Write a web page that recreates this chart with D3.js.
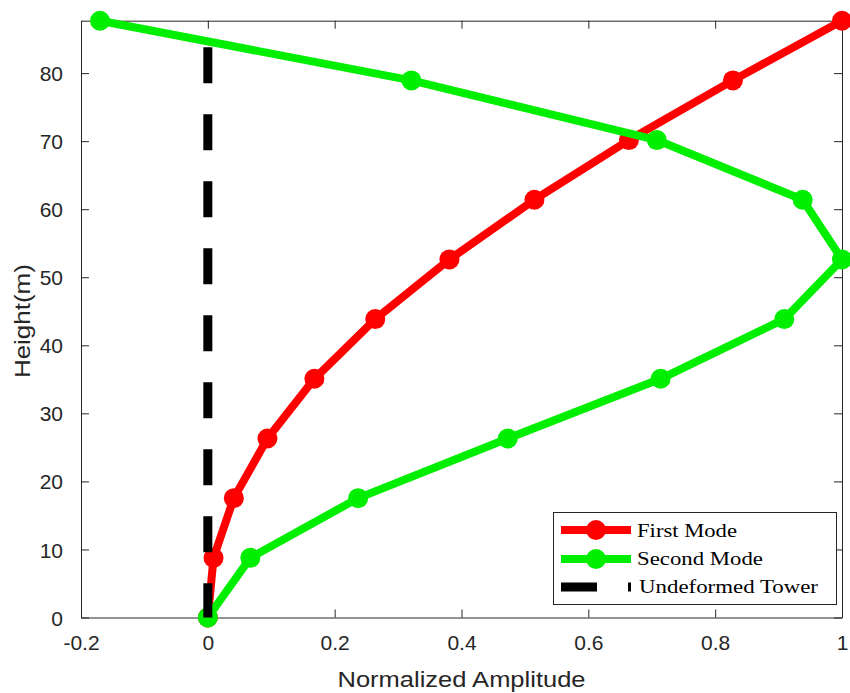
<!DOCTYPE html>
<html>
<head>
<meta charset="utf-8">
<script src="https://cdn.jsdelivr.net/npm/d3@7"></script>
<style>
  html, body { margin: 0; padding: 0; background: #fff; }
  svg { display: block; }
</style>
</head>
<body>
<script>
// Tower heights (m) at each measured station
const heights = [0, 8.77, 17.54, 26.31, 35.08, 43.85, 52.62, 61.39, 70.16, 78.93, 87.7];
// Normalized mode shape amplitudes
const firstMode  = [0, 0.009, 0.041, 0.094, 0.168, 0.264, 0.381, 0.515, 0.664, 0.828, 1.0];
const secondMode = [0, 0.067, 0.237, 0.473, 0.714, 0.909, 1.0, 0.938, 0.708, 0.321, -0.17];
// Undeformed tower axis (top to base)
const towerHeights = [83.8, 0];
const towerAmp = [0, 0];

const xTicks = [-0.2, 0, 0.2, 0.4, 0.6, 0.8, 1];
const yTicks = [0, 10, 20, 30, 40, 50, 60, 70, 80];
const seriesNames = ["First Mode", "Second Mode", "Undeformed Tower"];
const seriesColors = ["#ff0000", "#00ee00", "#000000"];

const W = 850, H = 693;
const m = { left: 81, right: 842, top: 20.7, bottom: 617.5 };
const axisColor = "#262626";

const svg = d3.select("body").append("svg").attr("width", W).attr("height", H);

const x = d3.scaleLinear().domain([-0.2, 1]).range([m.left, m.right]);
const y = d3.scaleLinear().domain([0, 87.7]).range([m.bottom, m.top]);

const tickLen = 8;
const fmt = d => d === 0 ? "0" : String(d);

// Axes with inward ticks
const gx = svg.append("g").attr("transform", `translate(0,${m.bottom})`)
  .call(d3.axisBottom(x).tickValues(xTicks).tickFormat(fmt).tickSizeInner(-tickLen).tickSizeOuter(0).tickPadding(18));
const gxTop = svg.append("g").attr("transform", `translate(0,${m.top})`)
  .call(d3.axisTop(x).tickValues(xTicks).tickFormat("").tickSizeInner(-tickLen).tickSizeOuter(0));
const gy = svg.append("g").attr("transform", `translate(${m.left},0)`)
  .call(d3.axisLeft(y).tickValues(yTicks).tickFormat(fmt).tickSizeInner(-tickLen).tickSizeOuter(0).tickPadding(18));
const gyRight = svg.append("g").attr("transform", `translate(${m.right},0)`)
  .call(d3.axisRight(y).tickValues(yTicks).tickFormat("").tickSizeInner(-tickLen).tickSizeOuter(0));

[gx, gxTop, gy, gyRight].forEach(g => {
  g.select(".domain").attr("stroke", axisColor).attr("stroke-width", 1);
  g.selectAll(".tick line").attr("stroke", axisColor).attr("stroke-width", 1);
  g.selectAll(".tick text")
    .attr("fill", axisColor)
    .style("font-family", "Arial, 'Liberation Sans', sans-serif")
    .style("font-size", "21px");
});
gx.selectAll(".tick text").attr("dy", "0.71em");
gy.selectAll(".tick text").attr("dy", "0.36em");

// Axis titles
svg.append("text")
  .attr("x", (m.left + m.right) / 2).attr("y", 687)
  .attr("text-anchor", "middle")
  .attr("fill", axisColor)
  .attr("textLength", 248).attr("lengthAdjust", "spacingAndGlyphs")
  .style("font-family", "Arial, 'Liberation Sans', sans-serif")
  .style("font-size", "22px")
  .text("Normalized Amplitude");

svg.append("text")
  .attr("transform", `translate(30,${(m.top + m.bottom) / 2 + 2}) rotate(-90)`)
  .attr("text-anchor", "middle")
  .attr("fill", axisColor)
  .attr("textLength", 114).attr("lengthAdjust", "spacingAndGlyphs")
  .style("font-family", "Arial, 'Liberation Sans', sans-serif")
  .style("font-size", "22px")
  .text("Height(m)");

// Mode shape lines with markers
const line = d3.line().x(d => x(d[0])).y(d => y(d[1]));
const modes = [firstMode, secondMode];
modes.forEach((vals, i) => {
  const pts = vals.map((v, k) => [v, heights[k]]);
  const g = svg.append("g");
  g.append("path").datum(pts)
    .attr("d", line)
    .attr("fill", "none")
    .attr("stroke", seriesColors[i])
    .attr("stroke-width", 8)
    .attr("stroke-linejoin", "round");
  g.selectAll("circle").data(pts).join("circle")
    .attr("cx", d => x(d[0])).attr("cy", d => y(d[1]))
    .attr("r", 10)
    .attr("fill", seriesColors[i]);
});

// Undeformed tower axis, dashed
svg.append("path")
  .datum(towerAmp.map((v, k) => [v, towerHeights[k]]))
  .attr("d", line)
  .attr("fill", "none")
  .attr("stroke", seriesColors[2])
  .attr("stroke-width", 9)
  .attr("stroke-dasharray", "36,31");

// Legend
const lg = svg.append("g");
lg.append("rect")
  .attr("x", 553.5).attr("y", 512.5).attr("width", 283).attr("height", 92)
  .attr("fill", "#fff").attr("stroke", axisColor).attr("stroke-width", 1);

const legendRows = [
  { y: 530, base: 537, len: 100 },
  { y: 559, base: 565, len: 126 },
  { y: 587, base: 593, len: 179 }
];
seriesNames.forEach((name, i) => {
  const r = legendRows[i];
  if (i < 2) {
    lg.append("line")
      .attr("x1", 561).attr("x2", 631).attr("y1", r.y).attr("y2", r.y)
      .attr("stroke", seriesColors[i]).attr("stroke-width", 8);
    lg.append("circle").attr("cx", 596).attr("cy", r.y).attr("r", 10).attr("fill", seriesColors[i]);
  } else {
    lg.append("line")
      .attr("x1", 561).attr("x2", 631).attr("y1", r.y).attr("y2", r.y)
      .attr("stroke", seriesColors[i]).attr("stroke-width", 9)
      .attr("stroke-dasharray", "36,31");
  }
  lg.append("text")
    .attr("x", i === 2 ? 639 : 637).attr("y", r.base)
    .attr("fill", "#000")
    .attr("textLength", r.len).attr("lengthAdjust", "spacingAndGlyphs")
    .style("font-family", "'Times New Roman', 'Liberation Serif', serif")
    .style("font-size", "19.5px")
    .text(name);
});
</script>
</body>
</html>
